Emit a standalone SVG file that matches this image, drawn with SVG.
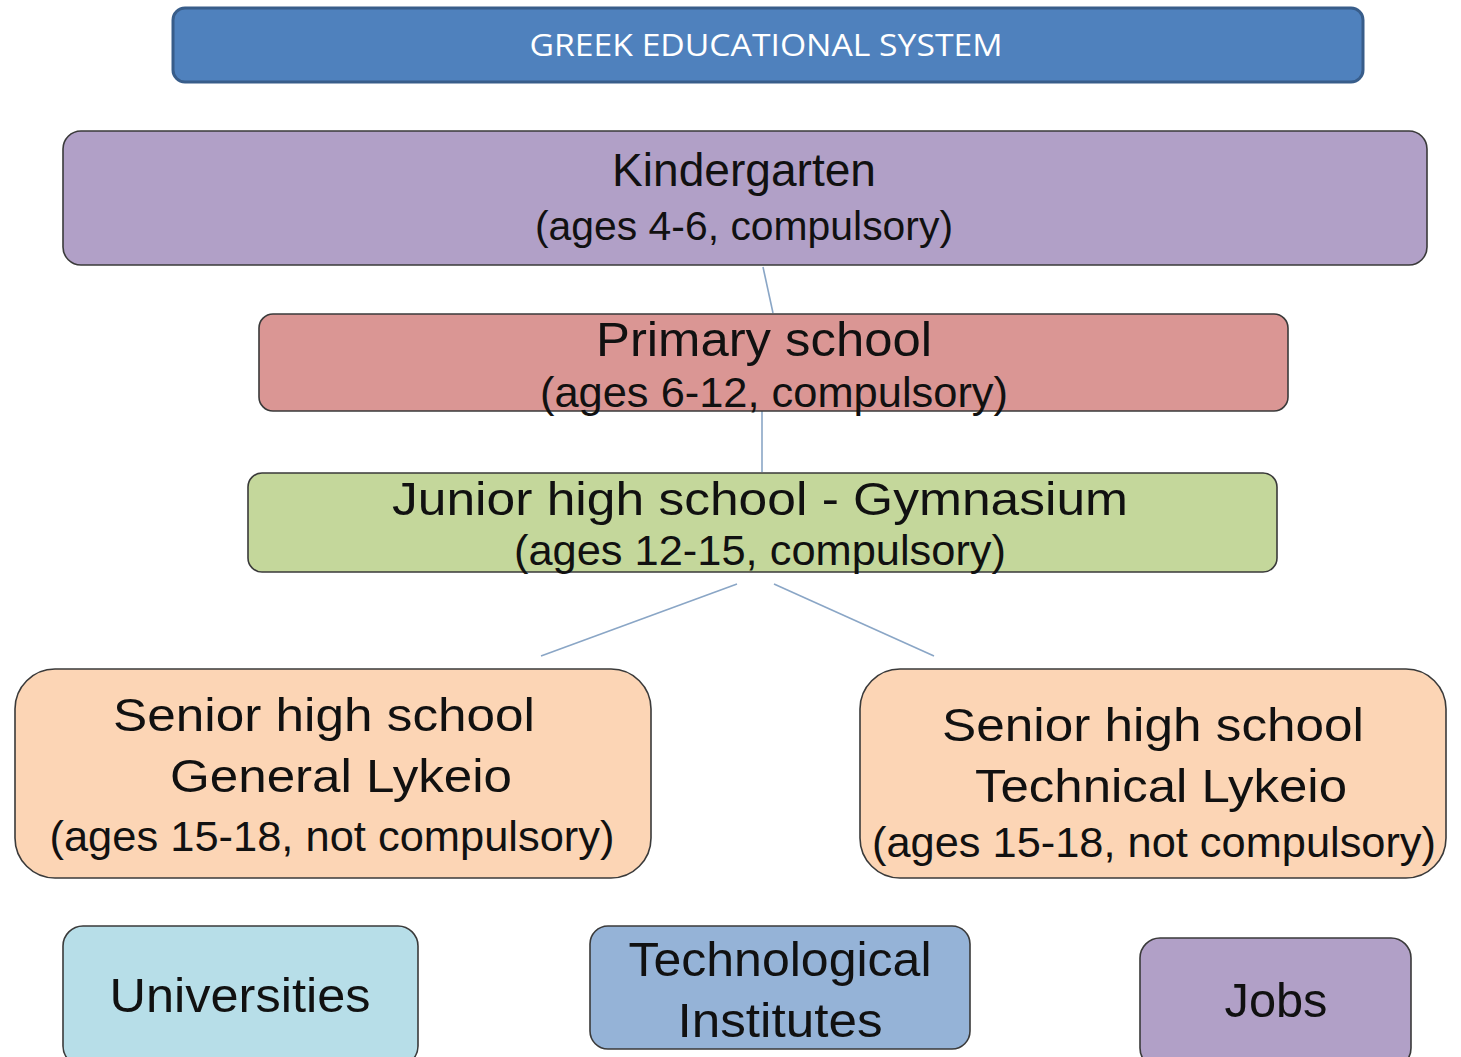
<svg xmlns="http://www.w3.org/2000/svg" width="1461" height="1057" viewBox="0 0 1461 1057">
<style>
.box{stroke:#3a3a3a;stroke-width:1.6}
.t{font-family:"Liberation Sans",Arial,sans-serif;fill:#111;text-anchor:middle}
.conn line{stroke:#8AA6C6;stroke-width:1.6}
</style>
<rect width="1461" height="1057" fill="#ffffff"/>
<g id="header">
<rect x="173" y="8" width="1190" height="74" rx="12" fill="#4F81BD" stroke="#385D8A" stroke-width="3"/>
<text x="766" y="56" font-family="Open Sans,Liberation Sans,sans-serif" font-size="31" fill="#ffffff" text-anchor="middle" textLength="473" lengthAdjust="spacingAndGlyphs">GREEK EDUCATIONAL SYSTEM</text>
</g>
<g class="conn" id="connectors">
<line x1="763" y1="267" x2="773" y2="313"/>
<line x1="762" y1="411" x2="762" y2="472"/>
<line x1="737" y1="584" x2="541" y2="656"/>
<line x1="774" y1="584" x2="934" y2="656"/>
</g>
<g id="kindergarten">
<rect class="box" x="63" y="131" width="1364" height="134" rx="18" fill="#B1A0C7"/>
<text class="t" x="744" y="186" font-size="46" textLength="264" lengthAdjust="spacingAndGlyphs">Kindergarten</text>
<text class="t" x="744" y="240" font-size="40" textLength="418" lengthAdjust="spacingAndGlyphs">(ages 4-6, compulsory)</text>
</g>
<g id="primary">
<rect class="box" x="259" y="314" width="1029" height="97" rx="14" fill="#DA9694"/>
<text class="t" x="764" y="356" font-size="48" textLength="336" lengthAdjust="spacingAndGlyphs">Primary school</text>
<text class="t" x="774" y="407" font-size="43" textLength="468" lengthAdjust="spacingAndGlyphs">(ages 6-12, compulsory)</text>
</g>
<g id="junior">
<rect class="box" x="248" y="473" width="1029" height="99" rx="14" fill="#C4D79B"/>
<text class="t" x="760" y="515" font-size="47" textLength="736" lengthAdjust="spacingAndGlyphs">Junior high school - Gymnasium</text>
<text class="t" x="760" y="565" font-size="42" textLength="492" lengthAdjust="spacingAndGlyphs">(ages 12-15, compulsory)</text>
</g>
<g id="senior-general">
<rect class="box" x="15" y="669" width="636" height="209" rx="40" fill="#FCD5B5"/>
<text class="t" x="324" y="731" font-size="47" textLength="422" lengthAdjust="spacingAndGlyphs">Senior high school</text>
<text class="t" x="341" y="792" font-size="47" textLength="342" lengthAdjust="spacingAndGlyphs">General Lykeio</text>
<text class="t" x="332" y="851" font-size="42" textLength="565" lengthAdjust="spacingAndGlyphs">(ages 15-18, not compulsory)</text>
</g>
<g id="senior-technical">
<rect class="box" x="860" y="669" width="586" height="209" rx="40" fill="#FCD5B5"/>
<text class="t" x="1153" y="741" font-size="47" textLength="422" lengthAdjust="spacingAndGlyphs">Senior high school</text>
<text class="t" x="1161" y="802" font-size="47" textLength="372" lengthAdjust="spacingAndGlyphs">Technical Lykeio</text>
<text class="t" x="1154" y="857" font-size="42" textLength="564" lengthAdjust="spacingAndGlyphs">(ages 15-18, not compulsory)</text>
</g>
<g id="universities">
<rect class="box" x="63" y="926" width="355" height="140" rx="20" fill="#B7DEE8"/>
<text class="t" x="240" y="1012" font-size="48" textLength="261" lengthAdjust="spacingAndGlyphs">Universities</text>
</g>
<g id="technological">
<rect class="box" x="590" y="926" width="380" height="123" rx="18" fill="#95B3D7"/>
<text class="t" x="780" y="976" font-size="48" textLength="303" lengthAdjust="spacingAndGlyphs">Technological</text>
<text class="t" x="780" y="1037" font-size="48" textLength="205" lengthAdjust="spacingAndGlyphs">Institutes</text>
</g>
<g id="jobs">
<rect class="box" x="1140" y="938" width="271" height="130" rx="20" fill="#B1A0C7"/>
<text class="t" x="1276" y="1017" font-size="48" textLength="103" lengthAdjust="spacingAndGlyphs">Jobs</text>
</g>
</svg>
